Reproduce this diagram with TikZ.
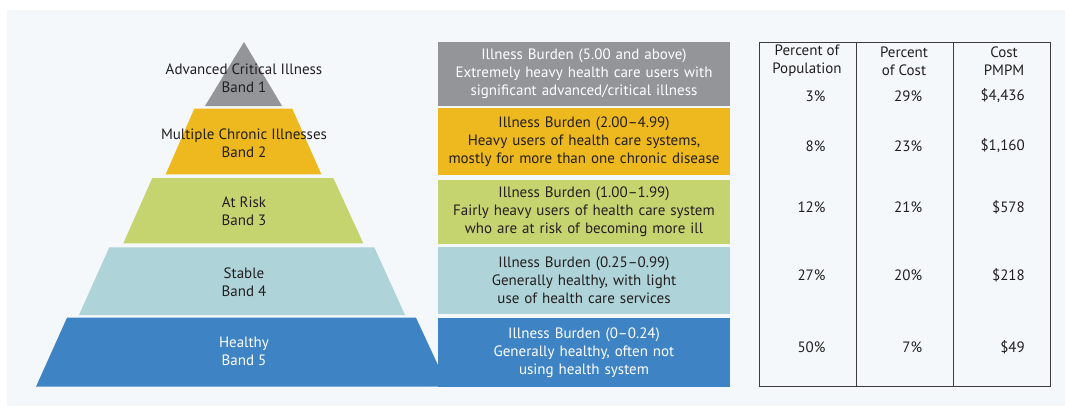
\documentclass[tikz,border=0pt]{standalone}
\usepackage{fontspec}
\setmainfont{PT Sans}
\definecolor{panelbg}{RGB}{245,248,250}
\definecolor{bandgray}{RGB}{147,149,152}
\definecolor{bandyellow}{RGB}{237,185,30}
\definecolor{bandgreen}{RGB}{198,212,112}
\definecolor{bandlblue}{RGB}{174,211,216}
\definecolor{bandblue}{RGB}{62,131,196}
\definecolor{darktext}{RGB}{35,31,32}
\definecolor{rulecol}{RGB}{60,60,62}
\tikzset{
  txt/.style={font=\fontsize{15}{18}\selectfont, align=center, inner sep=0pt, text=darktext},
  wtxt/.style={txt, text=white},
  descbox/.style={txt, minimum width=292pt, text width=292pt},
  num/.style={font=\fontsize{15}{18}\selectfont, inner sep=0pt, text=darktext, anchor=east},
}
\begin{document}
\begin{tikzpicture}[x=1pt,y=-1pt]
\useasboundingbox (0,0) rectangle (1065,407);
\fill[white] (0,0) rectangle (1065,407);
\fill[panelbg] (7,10) rectangle (1065,406);
% pyramid
\fill[bandgray] (244,42) -- (282,106) -- (205,106) -- cycle;
\fill[bandyellow] (194.3,108.7) -- (292.3,108.7) -- (321.3,174.3) -- (165.7,174.3) -- cycle;
\fill[bandgreen] (152.3,178) -- (333.3,178) -- (363.3,243.3) -- (123.3,243.3) -- cycle;
\fill[bandlblue] (109.3,247.3) -- (374.3,247.3) -- (405,315) -- (79,315) -- cycle;
\fill[bandblue] (67,317.7) -- (416,317.7) -- (448,386.7) -- (36,386.7) -- cycle;
\node[txt] (b1) at (244,78) {Advanced Critical Illness\\Band 1};
\node[txt] (b2) at (244,143) {Multiple Chronic Illnesses\\Band 2};
\node[txt] (b3) at (244,211) {At Risk\\Band 3};
\node[txt] (b4) at (244,282.5) {Stable\\Band 4};
\node[wtxt] (b5) at (244,351.5) {Healthy\\Band 5};
% description boxes
\node[descbox, fill=bandgray, text=white, minimum height=64pt] (d1) at (584,74) {Illness Burden (5.00 and above)\\Extremely heavy health care users with\\significant advanced/critical illness};
\node[descbox, fill=bandyellow, minimum height=67pt] (d2) at (584,141.5) {Illness Burden (2.00–4.99)\\Heavy users of health care systems,\\mostly for more than one chronic disease};
\node[descbox, fill=bandgreen, minimum height=64pt] (d3) at (584,212) {Illness Burden (1.00–1.99)\\Fairly heavy users of health care system\\who are at risk of becoming more ill};
\node[descbox, fill=bandlblue, minimum height=67.3pt] (d4) at (584,280.5) {Illness Burden (0.25–0.99)\\Generally healthy, with light\\use of health care services};
\node[descbox, fill=bandblue, text=white, minimum height=68.7pt] (d5) at (584,352.3) {Illness Burden (0–0.24)\\Generally healthy, often not\\using health system};
% table
\draw[rulecol, line width=1pt] (759,42) rectangle (1050.7,386.7);
\draw[rulecol, line width=0.9pt] (856,42) -- (856,386.7);
\draw[rulecol, line width=0.9pt] (953.3,42) -- (953.3,386.7);
\node[txt] (h1) at (807,61) {Percent of\\Population};
\node[txt] (h2) at (904,61) {Percent\\of Cost};
\node[txt] (h3) at (1004,61) {Cost\\PMPM};
\node[num] (p1) at (825.7,96) {3\%};
\node[num] (c1) at (922.3,96) {29\%};
\node[num] (m1) at (1025,96) {\$4,436};
\node[num] (p2) at (825.7,146) {8\%};
\node[num] (c2) at (922.3,146) {23\%};
\node[num] (m2) at (1025,146) {\$1,160};
\node[num] (p3) at (825.7,207.3) {12\%};
\node[num] (c3) at (922.3,207.3) {21\%};
\node[num] (m3) at (1025,207.3) {\$578};
\node[num] (p4) at (825.7,275.7) {27\%};
\node[num] (c4) at (922.3,275.7) {20\%};
\node[num] (m4) at (1025,275.7) {\$218};
\node[num] (p5) at (825.7,347.3) {50\%};
\node[num] (c5) at (922.3,347.3) {7\%};
\node[num] (m5) at (1025,347.3) {\$49};
\end{tikzpicture}
\end{document}
